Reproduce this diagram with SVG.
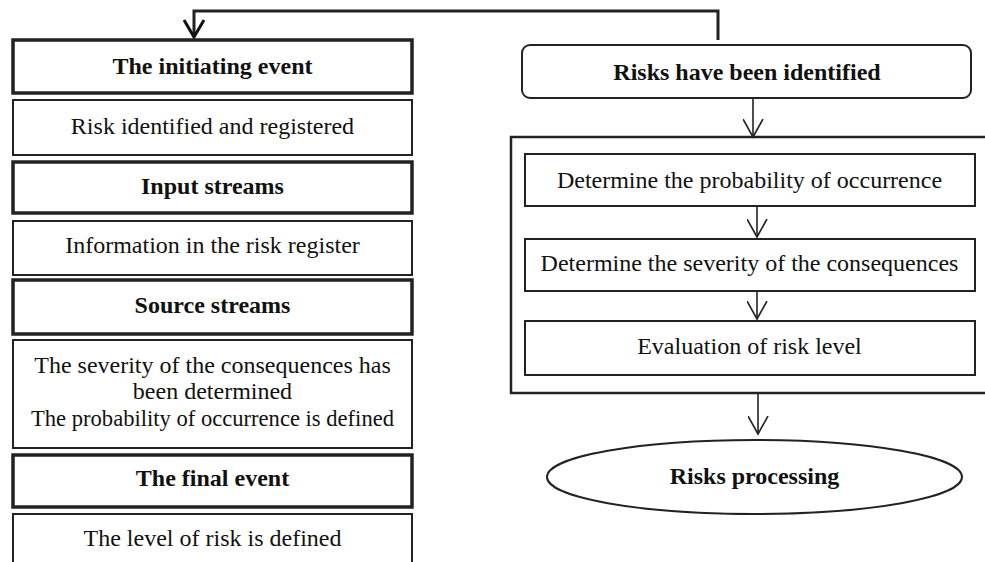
<svg xmlns="http://www.w3.org/2000/svg" width="985" height="562" viewBox="0 0 985 562">
<style>
text{font-family:"Liberation Serif","Times New Roman",serif;font-size:24px;fill:#111;text-anchor:middle}
.b{font-weight:bold}
.thick{fill:#fff;stroke:#222;stroke-width:3.5}
.thin{fill:#fff;stroke:#222;stroke-width:2}
.ln{fill:none;stroke:#222;stroke-width:1.6}
</style>
<defs>
<marker id="ah" markerWidth="22" markerHeight="22" refX="10" refY="18" markerUnits="userSpaceOnUse" viewBox="0 0 22 22">
<path d="M0,0 L10,18 L20,0" fill="none" stroke="#222" stroke-width="1.6"/>
</marker>
<marker id="ahb" markerWidth="24" markerHeight="24" refX="12" refY="19" markerUnits="userSpaceOnUse" viewBox="0 0 24 24">
<path d="M2,2 L12,19 L22,2" fill="none" stroke="#111" stroke-width="3"/>
</marker>
</defs>
<g id="connectors">
<path d="M718,40 V11 H194 V37" fill="none" stroke="#222" stroke-width="3" marker-end="url(#ahb)"/>
<path class="ln" d="M753,98 V137" marker-end="url(#ah)"/>
<path class="ln" d="M757,207 V237" marker-end="url(#ah)"/>
<path class="ln" d="M757,292 V319" marker-end="url(#ah)"/>
<path class="ln" d="M758,393 V434" marker-end="url(#ah)"/>
</g>
<g id="n-initiating"><rect class="thick" x="13" y="40" width="399" height="53"/><text class="b" x="212.5" y="74">The initiating event</text></g>
<g id="n-risk-identified"><rect class="thin" x="13" y="100" width="399" height="55"/><text x="212.5" y="134">Risk identified and registered</text></g>
<g id="n-input"><rect class="thick" x="13" y="162" width="399" height="51"/><text class="b" x="212.5" y="194">Input streams</text></g>
<g id="n-information"><rect class="thin" x="13" y="221" width="399" height="54"/><text x="212.5" y="253">Information in the risk register</text></g>
<g id="n-source"><rect class="thick" x="13" y="280" width="399" height="54"/><text class="b" x="212.5" y="313">Source streams</text></g>
<g id="n-severity-determined"><rect class="thin" x="13" y="340" width="399" height="108"/><text x="212.5" y="373">The severity of the consequences has</text><text x="212.5" y="399">been determined</text><text x="212.5" y="426" textLength="363" lengthAdjust="spacingAndGlyphs">The probability of occurrence is defined</text></g>
<g id="n-final"><rect class="thick" x="13" y="455" width="399" height="52"/><text class="b" x="212.5" y="486">The final event</text></g>
<g id="n-level"><rect class="thin" x="13" y="514" width="399" height="60"/><text x="212.5" y="546">The level of risk is defined</text></g>
<g id="n-risks-identified"><rect x="522" y="45" width="449" height="53" rx="8" fill="#fff" stroke="#222" stroke-width="2"/><text class="b" x="747" y="80">Risks have been identified</text></g>
<g id="n-container"><rect x="511" y="137" width="480" height="256" fill="none" stroke="#222" stroke-width="2.5"/></g>
<g id="n-probability"><rect class="thin" x="525" y="154" width="450" height="52"/><text x="749.5" y="188">Determine the probability of occurrence</text></g>
<g id="n-severity"><rect class="thin" x="525" y="239" width="450" height="52"/><text x="749.5" y="271">Determine the severity of the consequences</text></g>
<g id="n-evaluation"><rect class="thin" x="525" y="321" width="450" height="54"/><text x="749.5" y="354">Evaluation of risk level</text></g>
<g id="n-processing"><ellipse cx="754.5" cy="477" rx="207.5" ry="37" fill="#fff" stroke="#222" stroke-width="2"/><text class="b" x="754.5" y="484">Risks processing</text></g>
</svg>
